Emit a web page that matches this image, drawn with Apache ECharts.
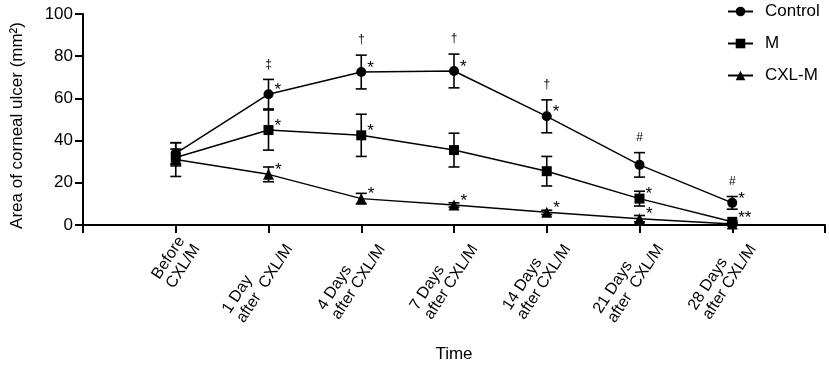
<!DOCTYPE html>
<html>
<head>
<meta charset="utf-8">
<script src="https://cdn.jsdelivr.net/npm/echarts@6/dist/echarts.min.js"></script>
<style>
  html, body { margin: 0; padding: 0; background: #fff; }
  #show { width: 829px; height: 368px; }
</style>
</head>
<body>
<div id="show"></div>
<script>
var myChart = echarts.init(document.getElementById("show"));

var FONT = 'Liberation Sans';

// time points (x positions 1..7 on the axis)
var timeLines = [
    ['Before', 'CXL/M'],
    ['1 Day', 'after  CXL/M'],
    ['4 Days', 'after CXL/M'],
    ['7 Days', 'after CXL/M'],
    ['14 Days', 'after CXL/M'],
    ['21 Days', 'after  CXL/M'],
    ['28 Days', 'after CXL/M']
];

var controlMean = [34, 62, 72.5, 73, 51.5, 28.5, 10.5];
var controlSd   = [5, 7, 8, 8, 7.8, 5.8, 3];
var mMean       = [32, 45, 42.5, 35.5, 25.5, 12.5, 1.5];
var mSd         = [4, 9.5, 10, 8, 7, 3.5, 0.5];
var cxlMean     = [31, 24, 12.5, 9.5, 6, 3, 0.5];
var cxlSd       = [8, 3.5, 2.5, 1, 1, 1.5, 0.3];

// significance marks
var controlStars = ['', '*', '*', '*', '*', '', '*'];
var controlSigns = ['', '\u2021', '\u2020', '\u2020', '\u2020', '#', '#'];
var mStars       = ['', '*', '*', '', '', '*', '**'];
var cxlStars     = ['', '*', '*', '*', '*', '*', ''];
var noSigns      = ['', '', '', '', '', '', ''];

var LABEL_SIZE = 16;

// width of each label block so lines stay left aligned inside it
var ctx = document.createElement('canvas').getContext('2d');
ctx.font = LABEL_SIZE + 'px ' + FONT;
var rich = {};
timeLines.forEach(function (l, i) {
    var w = Math.max(ctx.measureText(l[0]).width, ctx.measureText(l[1]).width);
    rich['w' + i] = { width: Math.ceil(w) + 1, align: 'left', fontSize: LABEL_SIZE, fontFamily: FONT, color: '#000', lineHeight: 17 };
});

function points(vals) {
    return vals.map(function (v, i) { return [i + 1, v]; });
}

function errorSeries(name, means, sds, signs) {
    return {
        type: 'custom',
        name: name + ' err',
        z: 1,
        silent: true,
        data: means.map(function (v, i) { return [i + 1, v, sds[i]]; }),
        renderItem: function (params, api) {
            var x = api.value(0), m = api.value(1), s = api.value(2);
            var top = api.coord([x, m + s]);
            var bot = api.coord([x, m - s]);
            var half = 5.5;
            var st = { stroke: '#000', lineWidth: 1.6 };
            var kids = [
                { type: 'line', shape: { x1: top[0], y1: top[1], x2: bot[0], y2: bot[1] }, style: st },
                { type: 'line', shape: { x1: top[0] - half, y1: top[1], x2: top[0] + half, y2: top[1] }, style: st },
                { type: 'line', shape: { x1: bot[0] - half, y1: bot[1], x2: bot[0] + half, y2: bot[1] }, style: st }
            ];
            var sign = signs[params.dataIndex];
            if (sign) {
                kids.push({
                    type: 'text',
                    style: {
                        text: sign, x: top[0], y: top[1] - 9,
                        align: 'center', verticalAlign: 'bottom',
                        fontSize: 12, fontFamily: FONT, fill: '#000'
                    }
                });
            }
            return { type: 'group', children: kids };
        }
    };
}

function lineSeries(name, means, symbol, size, stars) {
    return {
        type: 'line',
        name: name,
        z: 3,
        data: points(means),
        symbol: symbol,
        symbolSize: size,
        lineStyle: { color: '#000', width: 1.5 },
        itemStyle: { color: '#000' },
        label: {
            show: true,
            position: 'right',
            distance: 1,
            offset: [0, -4],
            fontSize: 17,
            fontFamily: FONT,
            color: '#000',
            formatter: function (p) { return stars[p.dataIndex]; }
        }
    };
}

myChart.setOption(option = {
    animation: false,
    textStyle: { fontFamily: FONT, color: '#000' },
    legend: {
        orient: 'vertical',
        left: 722,
        top: -2,
        itemWidth: 25,
        itemHeight: 12,
        itemGap: 15,
        textStyle: { fontSize: 17, fontFamily: FONT, color: '#000', padding: [0, 0, 0, 7] },
        data: ['Control', 'M', 'CXL-M']
    },
    grid: { left: 83, right: 4, top: 14, bottom: 141 },
    xAxis: {
        type: 'value',
        min: 0,
        max: 8,
        interval: 1,
        name: 'Time',
        nameLocation: 'middle',
        nameGap: 121,
        nameTextStyle: { fontSize: 17, fontFamily: FONT, color: '#000' },
        splitLine: { show: false },
        axisLine: { lineStyle: { color: '#000', width: 2 } },
        axisTick: { length: 8, lineStyle: { color: '#000', width: 2 } },
        axisLabel: {
            rotate: 57,
            margin: 6,
            verticalAlign: 'top',
            color: '#000',
            fontSize: LABEL_SIZE,
            fontFamily: FONT,
            rich: rich,
            formatter: function (v) {
                var i = v - 1;
                if (i < 0 || i >= timeLines.length) return '';
                return '{w' + i + '|' + timeLines[i][0] + '}\n{w' + i + '|' + timeLines[i][1] + '}';
            }
        }
    },
    yAxis: {
        type: 'value',
        min: 0,
        max: 100,
        interval: 20,
        name: 'Area of corneal ulcer (mm\u00b2)',
        nameLocation: 'middle',
        nameGap: 57,
        nameTextStyle: { fontSize: 17, fontFamily: FONT, color: '#000', padding: [0, 12, 0, 0] },
        splitLine: { show: false },
        axisLine: { show: true, lineStyle: { color: '#000', width: 2 } },
        axisTick: { show: true, length: 8, lineStyle: { color: '#000', width: 2 } },
        axisLabel: { margin: 10, fontSize: 17, fontFamily: FONT, color: '#000' }
    },
    series: [
        errorSeries('Control', controlMean, controlSd, controlSigns),
        errorSeries('M', mMean, mSd, noSigns),
        errorSeries('CXL-M', cxlMean, cxlSd, noSigns),
        lineSeries('Control', controlMean, 'circle', 10, controlStars),
        lineSeries('M', mMean, 'rect', 10, mStars),
        lineSeries('CXL-M', cxlMean, 'triangle', 11, cxlStars)
    ]
});
</script>
</body>
</html>
